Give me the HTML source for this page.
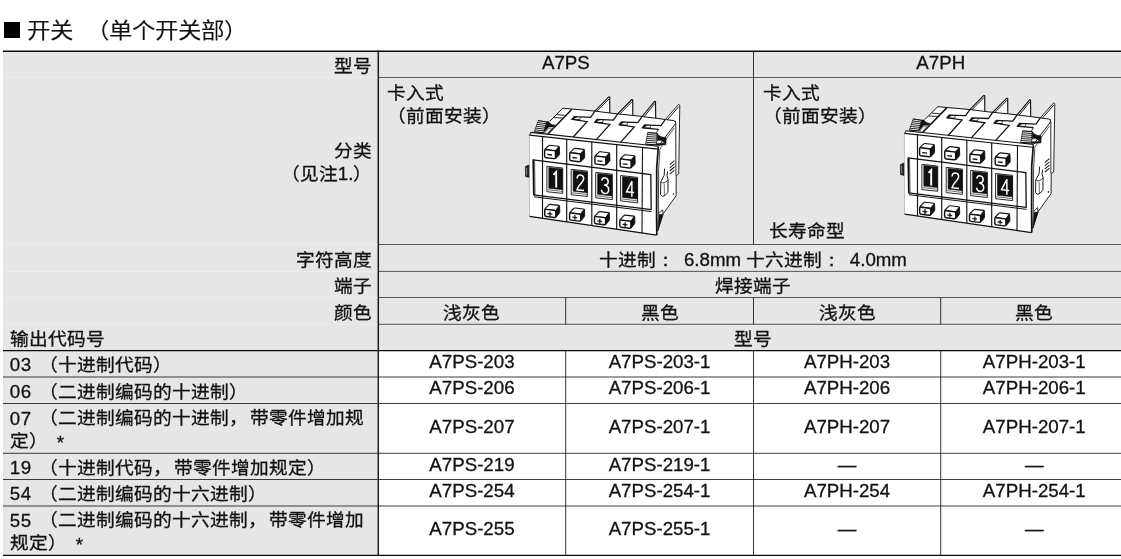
<!DOCTYPE html>
<html lang="zh-CN"><head><meta charset="utf-8"><title>A7PS / A7PH</title>
<style>
html,body{margin:0;padding:0;background:#fff;}
html{filter:grayscale(1);}
body{width:1121px;height:559px;overflow:hidden;position:relative;font-family:"Liberation Sans",sans-serif;color:#111;}
.abs{position:absolute;}
.t{position:absolute;white-space:nowrap;font-size:18.7px;line-height:24px;-webkit-text-stroke:0.3px #111;}
.k{transform:scaleY(0.94);transform-origin:50% 50%;}
.d{display:inline-block;transform:scaleY(1.0638);}
.r{text-align:right;}
.c{text-align:center;}
.l{text-align:left;}
.co{margin-right:3.4px;}
svg{position:absolute;left:0;top:0;}
</style></head>
<body>
<div class="abs" style="left:3.0px;top:51px;width:1125.0px;height:299.5px;background:#e6e6e6"></div>
<div class="abs" style="left:3.0px;top:350px;width:375.3px;height:205px;background:#e6e6e6"></div>
<svg width="1121" height="559" viewBox="0 0 1121 559">
<line x1="3.0" y1="77.5" x2="377.5" y2="77.5" stroke="#ececec" stroke-width="1.0"/>
<line x1="3.0" y1="244.5" x2="377.5" y2="244.5" stroke="#ececec" stroke-width="1.0"/>
<line x1="3.0" y1="271.4" x2="377.5" y2="271.4" stroke="#ececec" stroke-width="1.0"/>
<line x1="3.0" y1="297.5" x2="377.5" y2="297.5" stroke="#ececec" stroke-width="1.0"/>
<line x1="3.0" y1="324.3" x2="377.5" y2="324.3" stroke="#ececec" stroke-width="1.0"/>
<line x1="3.0" y1="51.2" x2="1128" y2="51.2" stroke="#0a0a0a" stroke-width="1.5"/>
<line x1="378.3" y1="77.5" x2="1128" y2="77.5" stroke="#111" stroke-width="0.68"/>
<line x1="378.3" y1="244.5" x2="1128" y2="244.5" stroke="#111" stroke-width="0.68"/>
<line x1="378.3" y1="271.4" x2="1128" y2="271.4" stroke="#111" stroke-width="0.68"/>
<line x1="378.3" y1="297.5" x2="1128" y2="297.5" stroke="#111" stroke-width="0.68"/>
<line x1="378.3" y1="324.3" x2="1128" y2="324.3" stroke="#111" stroke-width="0.68"/>
<line x1="3.0" y1="350.5" x2="1128" y2="350.5" stroke="#0a0a0a" stroke-width="1.25"/>
<line x1="3.0" y1="377.0" x2="1128" y2="377.0" stroke="#111" stroke-width="0.82"/>
<line x1="3.0" y1="403.5" x2="1128" y2="403.5" stroke="#111" stroke-width="0.82"/>
<line x1="3.0" y1="453.3" x2="1128" y2="453.3" stroke="#111" stroke-width="0.82"/>
<line x1="3.0" y1="479.5" x2="1128" y2="479.5" stroke="#111" stroke-width="0.82"/>
<line x1="3.0" y1="506.0" x2="1128" y2="506.0" stroke="#111" stroke-width="0.82"/>
<line x1="3.0" y1="555.4" x2="1128" y2="555.4" stroke="#0a0a0a" stroke-width="1.25"/>
<line x1="378.3" y1="50.5" x2="378.3" y2="556" stroke="#1e1e1e" stroke-width="1.5"/>
<line x1="753.5" y1="51" x2="753.5" y2="244.5" stroke="#111" stroke-width="0.85"/>
<line x1="565.7" y1="297.5" x2="565.7" y2="324.3" stroke="#111" stroke-width="0.85"/>
<line x1="565.7" y1="350.5" x2="565.7" y2="555.4" stroke="#111" stroke-width="0.85"/>
<line x1="753.5" y1="297.5" x2="753.5" y2="324.3" stroke="#111" stroke-width="0.85"/>
<line x1="753.5" y1="350.5" x2="753.5" y2="555.4" stroke="#111" stroke-width="0.85"/>
<line x1="940.7" y1="297.5" x2="940.7" y2="324.3" stroke="#111" stroke-width="0.85"/>
<line x1="940.7" y1="350.5" x2="940.7" y2="555.4" stroke="#111" stroke-width="0.85"/>
<g id="dev">
<polygon points="529.6,216.4 529.5,133 534.3,132 538.2,120.4 546.8,121.6 549.8,121.2 562.7,108.2 594.9,111.1 608.8,96.8 609.7,97 609.8,113 617.7,113.9 631.8,99.5 632.6,99.8 632.8,115.4 642.1,116.5 654.6,101.3 655.5,101.6 655.7,118.2 665.3,119.5 678.6,104.3 679.8,105.2 678.7,174 676.2,175.6 676.1,195.7 663.2,213.8 657.4,231 656.7,235.1" fill="#fff" stroke="none" stroke-width="1.0" />
<polyline points="594.9,111.1 608.8,96.8 609.7,97.1 609.8,113" fill="none" stroke="#111" stroke-width="1.15" />
<line x1="596.9" y1="111.3" x2="609.2" y2="98.8" stroke="#111" stroke-width="0.95"/>
<polyline points="617.7,113.9 631.8,99.5 632.7,99.8 632.8,115.4" fill="none" stroke="#111" stroke-width="1.15" />
<line x1="619.7" y1="114.1" x2="632.2" y2="101.5" stroke="#111" stroke-width="0.95"/>
<polyline points="642.1,116.5 654.6,101.3 655.5,101.6 655.7,118.2" fill="none" stroke="#111" stroke-width="1.15" />
<line x1="644.1" y1="116.7" x2="655" y2="103.3" stroke="#111" stroke-width="0.95"/>
<polyline points="665.3,119.5 678.6,104.3 679.8,105.2 678.7,174 676.2,175.6 676.1,195.7 663.2,213.8 657.4,231" fill="none" stroke="#111" stroke-width="0.9" />
<line x1="667.4" y1="119.7" x2="678.8" y2="106.5" stroke="#111" stroke-width="0.95"/>
<polyline points="675.2,120.8 675.8,124 675.9,175.6" fill="none" stroke="#111" stroke-width="0.9" />
<polyline points="562.7,108.2 594.9,111.1 609.8,113 617.7,113.9 632.8,115.4 642.1,116.5 655.7,118.2 665.3,119.5 673.8,120.6 675.6,122" fill="none" stroke="#111" stroke-width="1.0" />
<polyline points="562.7,108.2 549.8,121.2" fill="none" stroke="#111" stroke-width="1.0" />
<line x1="571.7" y1="109.4" x2="547.9" y2="133.9" stroke="#111" stroke-width="1.5"/>
<line x1="556.9" y1="114.7" x2="564.6" y2="115.3" stroke="#111" stroke-width="0.9"/>
<line x1="554" y1="117.7" x2="562.6" y2="118" stroke="#111" stroke-width="0.9"/>
<polyline points="594.9,111.1 590.6,117.3 574.2,116.6 572,119.4 587.1,121.6 573.3,137" fill="none" stroke="#111" stroke-width="1.25" />
<polygon points="574.4,116.8 576.5,117 573.2,119.3 572,119.4" fill="#111" stroke="#111" stroke-width="0.5" />
<line x1="580.4" y1="117.2" x2="579.8" y2="119.6" stroke="#111" stroke-width="0.7"/>
<line x1="573" y1="119.5" x2="580.2" y2="119.8" stroke="#111" stroke-width="1.0"/>
<polyline points="617.7,113.9 613.4,120.1 597,119.4 594.8,122.2 609.9,124.4 596.1,139.8" fill="none" stroke="#111" stroke-width="1.25" />
<polygon points="597.2,119.6 599.3,119.8 596,122.1 594.8,122.2" fill="#111" stroke="#111" stroke-width="0.5" />
<line x1="603.2" y1="120" x2="602.6" y2="122.4" stroke="#111" stroke-width="0.7"/>
<line x1="595.8" y1="122.3" x2="603" y2="122.6" stroke="#111" stroke-width="1.0"/>
<polyline points="642.1,116.5 637.8,122.7 621.4,122 619.2,124.8 634.3,127 620.5,142.4" fill="none" stroke="#111" stroke-width="1.25" />
<polygon points="621.6,122.2 623.7,122.4 620.4,124.7 619.2,124.8" fill="#111" stroke="#111" stroke-width="0.5" />
<line x1="627.6" y1="122.6" x2="627" y2="125" stroke="#111" stroke-width="0.7"/>
<line x1="620.2" y1="124.9" x2="627.4" y2="125.2" stroke="#111" stroke-width="1.0"/>
<polyline points="665.3,119.5 661,125.7 644.6,125 642.4,127.8 658.5,129.4" fill="none" stroke="#111" stroke-width="1.25" />
<polygon points="644.8,125.2 646.9,125.4 643.6,127.7 642.4,127.8" fill="#111" stroke="#111" stroke-width="0.5" />
<line x1="650.8" y1="125.6" x2="650.2" y2="128" stroke="#111" stroke-width="0.7"/>
<line x1="643.4" y1="127.9" x2="650.6" y2="128.2" stroke="#111" stroke-width="1.0"/>
<polyline points="675.6,123.6 664.9,137.6 658.4,146.6" fill="none" stroke="#111" stroke-width="1.0" />
<polyline points="674.4,127.8 665.4,140.2 659.2,150.5" fill="none" stroke="#111" stroke-width="0.7" />
<polygon points="538.2,120.6 546.8,122 543.6,132.6 534.3,131.8" fill="#fff" stroke="#111" stroke-width="0.7" />
<line x1="538.2" y1="120.6" x2="546.8" y2="122" stroke="#000" stroke-width="0.85"/>
<line x1="537.6" y1="122.5" x2="546.3" y2="123.8" stroke="#000" stroke-width="0.85"/>
<line x1="536.9" y1="124.3" x2="545.7" y2="125.5" stroke="#000" stroke-width="0.85"/>
<line x1="536.2" y1="126.2" x2="545.2" y2="127.3" stroke="#000" stroke-width="0.85"/>
<line x1="535.6" y1="128.1" x2="544.7" y2="129.1" stroke="#000" stroke-width="0.85"/>
<line x1="534.9" y1="129.9" x2="544.1" y2="130.8" stroke="#000" stroke-width="0.85"/>
<line x1="534.3" y1="131.8" x2="543.6" y2="132.6" stroke="#000" stroke-width="0.85"/>
<path d="M546.6,121.8 L548.6,121.4 Q551.5,125.6 555.3,124.9 L553.4,126.9 L548.8,126.9 L543.9,132.6 Z" fill="#111" stroke="#111" stroke-width="0.5"/>
<polygon points="548.6,128.2 551.8,128.4 546.9,133.8 544.6,133.2" fill="#fff" stroke="#111" stroke-width="0.5" />
<polygon points="647.7,132.6 657.2,133.3 656.5,144.8 645.6,144.2" fill="#fff" stroke="#111" stroke-width="0.7" />
<line x1="647.7" y1="132.6" x2="657.2" y2="133.3" stroke="#000" stroke-width="0.85"/>
<line x1="647.4" y1="134.5" x2="657.1" y2="135.2" stroke="#000" stroke-width="0.85"/>
<line x1="647" y1="136.5" x2="657" y2="137.1" stroke="#000" stroke-width="0.85"/>
<line x1="646.7" y1="138.4" x2="656.9" y2="139.1" stroke="#000" stroke-width="0.85"/>
<line x1="646.3" y1="140.3" x2="656.7" y2="141" stroke="#000" stroke-width="0.85"/>
<line x1="646" y1="142.3" x2="656.6" y2="142.9" stroke="#000" stroke-width="0.85"/>
<line x1="645.6" y1="144.2" x2="656.5" y2="144.8" stroke="#000" stroke-width="0.85"/>
<path d="M657.2,133.2 C659.4,136.6 662.6,137.6 665.5,137.2 L666.2,138.4 L666.0,144.6 L664.2,142.6 C662.0,140.4 659.6,139.8 657.2,140.8 Z" fill="#111" stroke="#111" stroke-width="0.5"/>
<path d="M656.6,143.6 L664.4,143.2 L666.0,144.8 L656.4,145.4 Z" fill="#111" stroke="#111" stroke-width="0.4"/>
<polyline points="658.5,129.4 656.3,132.8" fill="none" stroke="#111" stroke-width="0.9" />
<line x1="529.4" y1="135.6" x2="529.5" y2="216.2" stroke="#a0a0a0" stroke-width="0.6"/>
<line x1="529.3" y1="135.3" x2="531.2" y2="132.4" stroke="#111" stroke-width="1.0"/>
<line x1="529.6" y1="216.4" x2="656.7" y2="235.1" stroke="#111" stroke-width="1.2"/>
<line x1="530.6" y1="132.4" x2="658.2" y2="146.2" stroke="#111" stroke-width="1.1"/>
<line x1="529.5" y1="135.1" x2="657.8" y2="149.1" stroke="#111" stroke-width="1.1"/>
<polyline points="658.3,147 656.7,168 656.6,215 656.8,235" fill="none" stroke="#111" stroke-width="1.7" />
<polyline points="659.8,150.6 658.6,170 658.4,212 657.8,228" fill="none" stroke="#111" stroke-width="0.8" />
<line x1="542.5" y1="136.5" x2="542.5" y2="218.3" stroke="#111" stroke-width="1.15"/>
<line x1="566.7" y1="139.2" x2="566.7" y2="221.9" stroke="#111" stroke-width="1.15"/>
<line x1="591.8" y1="141.9" x2="591.8" y2="225.5" stroke="#111" stroke-width="1.15"/>
<line x1="616.7" y1="144.6" x2="616.7" y2="229.2" stroke="#111" stroke-width="1.15"/>
<line x1="642.5" y1="147.4" x2="642" y2="232.9" stroke="#111" stroke-width="1.1"/>
<polyline points="533,159.8 650.8,174.5 651.2,209.7" fill="none" stroke="#111" stroke-width="1.3" />
<line x1="533.2" y1="159.5" x2="533.8" y2="195.3" stroke="#111" stroke-width="1.7"/>
<line x1="534.6" y1="160.8" x2="535" y2="195.1" stroke="#111" stroke-width="0.7"/>
<line x1="533.5" y1="194.9" x2="651.4" y2="209.7" stroke="#111" stroke-width="1.3"/>
<line x1="534" y1="196.8" x2="651.6" y2="211.6" stroke="#111" stroke-width="1.0"/>
<polygon points="525.4,166.6 528.8,165 528.9,177.4 525.5,176.6" fill="#161616" stroke="#111" stroke-width="0.6" />
<line x1="526.7" y1="167.6" x2="526.8" y2="175.6" stroke="#c8c8c8" stroke-width="0.7"/>
<path d="M555.5,151.7 Q555.5,150.8 556.1,150.1 L558.8,147.1 Q559.4,146.4 559.4,147.3 L559.6,153.7 Q559.6,154.6 559,155.3 L556.1,158.2 Q555.5,158.8 555.5,157.9 Z" fill="#111" stroke="#111" stroke-width="0.9" stroke-linejoin="round"/><path d="M545.4,149.6 Q544.6,149.5 545.2,149 L548.7,145.7 Q549.3,145.2 550.1,145.3 L558.6,146.3 Q559.4,146.4 558.9,147 L556,150.2 Q555.5,150.8 554.7,150.7 Z" fill="#fff" stroke="#111" stroke-width="1.15" stroke-linejoin="round"/><path d="M544.6,151 Q544.6,149.5 546.1,149.7 L554,150.6 Q555.5,150.8 555.5,152.3 L555.5,157.3 Q555.5,158.8 554,158.6 L546.1,157.7 Q544.6,157.5 544.6,156 Z" fill="#fff" stroke="#111" stroke-width="1.45" stroke-linejoin="round"/><line x1="547.2" y1="154.4" x2="552" y2="155" stroke="#111" stroke-width="1.35"/>
<path d="M580.6,154.8 Q580.6,153.9 581.2,153.2 L583.9,150.2 Q584.5,149.5 584.5,150.4 L584.7,156.8 Q584.7,157.7 584.1,158.4 L581.2,161.3 Q580.6,161.9 580.6,161 Z" fill="#111" stroke="#111" stroke-width="0.9" stroke-linejoin="round"/><path d="M570.5,152.7 Q569.7,152.6 570.3,152.1 L573.8,148.8 Q574.4,148.3 575.2,148.4 L583.7,149.4 Q584.5,149.5 584,150.1 L581.1,153.3 Q580.6,153.9 579.8,153.8 Z" fill="#fff" stroke="#111" stroke-width="1.15" stroke-linejoin="round"/><path d="M569.7,154.1 Q569.7,152.6 571.2,152.8 L579.1,153.7 Q580.6,153.9 580.6,155.4 L580.6,160.4 Q580.6,161.9 579.1,161.7 L571.2,160.8 Q569.7,160.6 569.7,159.1 Z" fill="#fff" stroke="#111" stroke-width="1.45" stroke-linejoin="round"/><line x1="572.3" y1="157.5" x2="577.1" y2="158.1" stroke="#111" stroke-width="1.35"/>
<path d="M605.8,158.1 Q605.8,157.2 606.4,156.5 L609.1,153.5 Q609.7,152.8 609.7,153.7 L609.9,160.1 Q609.9,161 609.3,161.7 L606.4,164.6 Q605.8,165.2 605.8,164.3 Z" fill="#111" stroke="#111" stroke-width="0.9" stroke-linejoin="round"/><path d="M595.7,156 Q594.9,155.9 595.5,155.4 L599,152.1 Q599.6,151.6 600.4,151.7 L608.9,152.7 Q609.7,152.8 609.2,153.4 L606.3,156.6 Q605.8,157.2 605,157.1 Z" fill="#fff" stroke="#111" stroke-width="1.15" stroke-linejoin="round"/><path d="M594.9,157.4 Q594.9,155.9 596.4,156.1 L604.3,157 Q605.8,157.2 605.8,158.7 L605.8,163.7 Q605.8,165.2 604.3,165 L596.4,164.1 Q594.9,163.9 594.9,162.4 Z" fill="#fff" stroke="#111" stroke-width="1.45" stroke-linejoin="round"/><line x1="597.5" y1="160.8" x2="602.3" y2="161.4" stroke="#111" stroke-width="1.35"/>
<path d="M631.1,161.1 Q631.1,160.2 631.7,159.5 L634.4,156.5 Q635,155.8 635,156.7 L635.2,163.1 Q635.2,164 634.6,164.7 L631.7,167.6 Q631.1,168.2 631.1,167.3 Z" fill="#111" stroke="#111" stroke-width="0.9" stroke-linejoin="round"/><path d="M621,159 Q620.2,158.9 620.8,158.4 L624.3,155.1 Q624.9,154.6 625.7,154.7 L634.2,155.7 Q635,155.8 634.5,156.4 L631.6,159.6 Q631.1,160.2 630.3,160.1 Z" fill="#fff" stroke="#111" stroke-width="1.15" stroke-linejoin="round"/><path d="M620.2,160.4 Q620.2,158.9 621.7,159.1 L629.6,160 Q631.1,160.2 631.1,161.7 L631.1,166.7 Q631.1,168.2 629.6,168 L621.7,167.1 Q620.2,166.9 620.2,165.4 Z" fill="#fff" stroke="#111" stroke-width="1.45" stroke-linejoin="round"/><line x1="622.8" y1="163.8" x2="627.6" y2="164.4" stroke="#111" stroke-width="1.35"/>
<path d="M555.8,211.4 Q555.8,210.5 556.3,209.8 L559.1,206.2 Q559.6,205.5 559.6,206.4 L559.8,211.9 Q559.8,212.8 559.2,213.5 L556.4,216.9 Q555.8,217.6 555.8,216.7 Z" fill="#111" stroke="#111" stroke-width="0.9" stroke-linejoin="round"/><path d="M545.5,209.3 Q544.7,209.2 545.2,208.6 L548.8,204.9 Q549.3,204.3 550.1,204.4 L558.8,205.4 Q559.6,205.5 559.1,206.2 L556.3,209.9 Q555.8,210.5 555,210.4 Z" fill="#fff" stroke="#111" stroke-width="1.15" stroke-linejoin="round"/><path d="M544.7,210.7 Q544.7,209.2 546.2,209.4 L554.3,210.4 Q555.8,210.5 555.8,212 L555.8,216.1 Q555.8,217.6 554.3,217.5 L546.2,216.5 Q544.7,216.3 544.7,214.8 Z" fill="#fff" stroke="#111" stroke-width="1.45" stroke-linejoin="round"/><line x1="547.5" y1="213.6" x2="552.3" y2="214.2" stroke="#111" stroke-width="1.25"/><line x1="550" y1="211.5" x2="550" y2="216.2" stroke="#111" stroke-width="1.25"/>
<path d="M580.7,215 Q580.7,214.1 581.2,213.4 L584,209.8 Q584.5,209.1 584.5,210 L584.7,215.5 Q584.7,216.4 584.1,217.1 L581.3,220.5 Q580.7,221.2 580.7,220.3 Z" fill="#111" stroke="#111" stroke-width="0.9" stroke-linejoin="round"/><path d="M570.4,212.9 Q569.6,212.8 570.1,212.2 L573.7,208.5 Q574.2,207.9 575,208 L583.7,209 Q584.5,209.1 584,209.8 L581.2,213.5 Q580.7,214.1 579.9,214 Z" fill="#fff" stroke="#111" stroke-width="1.15" stroke-linejoin="round"/><path d="M569.6,214.3 Q569.6,212.8 571.1,213 L579.2,214 Q580.7,214.1 580.7,215.6 L580.7,219.7 Q580.7,221.2 579.2,221.1 L571.1,220.1 Q569.6,219.9 569.6,218.4 Z" fill="#fff" stroke="#111" stroke-width="1.45" stroke-linejoin="round"/><line x1="572.4" y1="217.2" x2="577.2" y2="217.8" stroke="#111" stroke-width="1.25"/><line x1="574.9" y1="215.1" x2="574.9" y2="219.8" stroke="#111" stroke-width="1.25"/>
<path d="M605.6,218.6 Q605.6,217.7 606.1,217 L608.9,213.4 Q609.4,212.7 609.4,213.6 L609.6,219.1 Q609.6,220 609,220.7 L606.2,224.1 Q605.6,224.8 605.6,223.9 Z" fill="#111" stroke="#111" stroke-width="0.9" stroke-linejoin="round"/><path d="M595.3,216.5 Q594.5,216.4 595,215.8 L598.6,212.1 Q599.1,211.5 599.9,211.6 L608.6,212.6 Q609.4,212.7 608.9,213.4 L606.1,217.1 Q605.6,217.7 604.8,217.6 Z" fill="#fff" stroke="#111" stroke-width="1.15" stroke-linejoin="round"/><path d="M594.5,217.9 Q594.5,216.4 596,216.6 L604.1,217.6 Q605.6,217.7 605.6,219.2 L605.6,223.3 Q605.6,224.8 604.1,224.7 L596,223.7 Q594.5,223.5 594.5,222 Z" fill="#fff" stroke="#111" stroke-width="1.45" stroke-linejoin="round"/><line x1="597.3" y1="220.8" x2="602.1" y2="221.4" stroke="#111" stroke-width="1.25"/><line x1="599.8" y1="218.7" x2="599.8" y2="223.4" stroke="#111" stroke-width="1.25"/>
<path d="M630.9,222.1 Q630.9,221.2 631.4,220.5 L634.2,216.9 Q634.7,216.2 634.7,217.1 L634.9,222.6 Q634.9,223.5 634.3,224.2 L631.5,227.6 Q630.9,228.3 630.9,227.4 Z" fill="#111" stroke="#111" stroke-width="0.9" stroke-linejoin="round"/><path d="M620.6,220 Q619.8,219.9 620.3,219.3 L623.9,215.6 Q624.4,215 625.2,215.1 L633.9,216.1 Q634.7,216.2 634.2,216.9 L631.4,220.6 Q630.9,221.2 630.1,221.1 Z" fill="#fff" stroke="#111" stroke-width="1.15" stroke-linejoin="round"/><path d="M619.8,221.4 Q619.8,219.9 621.3,220.1 L629.4,221.1 Q630.9,221.2 630.9,222.7 L630.9,226.8 Q630.9,228.3 629.4,228.2 L621.3,227.2 Q619.8,227 619.8,225.5 Z" fill="#fff" stroke="#111" stroke-width="1.45" stroke-linejoin="round"/><line x1="622.6" y1="224.3" x2="627.4" y2="224.9" stroke="#111" stroke-width="1.25"/><line x1="625.1" y1="222.2" x2="625.1" y2="226.9" stroke="#111" stroke-width="1.25"/>
<polygon points="546.9,166.3 562.7,168 562.7,193.4 546.9,191.7" fill="#fff" stroke="#111" stroke-width="0.9" />
<polygon points="548.8,167.4 562.5,168.9 562.5,189.7 548.8,188.2" fill="#111" stroke="#111" stroke-width="0.6" />
<line x1="547.7" y1="189.7" x2="562.3" y2="191.4" stroke="#111" stroke-width="0.6"/>
<path d="M2.6,4.6 L6,0.6 L6,20" transform="translate(551.4,171) skewY(6.3) scale(0.8,0.8)" fill="none" stroke="#fff" stroke-width="1.9" vector-effect="non-scaling-stroke" stroke-linejoin="miter"/>
<polygon points="571.2,169.3 587.4,171.1 587.4,196.5 571.2,194.7" fill="#fff" stroke="#111" stroke-width="0.9" />
<polygon points="573.1,170.4 587.2,172 587.2,192.8 573.1,191.2" fill="#111" stroke="#111" stroke-width="0.6" />
<line x1="572" y1="192.7" x2="587" y2="194.5" stroke="#111" stroke-width="0.6"/>
<path d="M1,5.4 C1,-1 9.2,-1 9.2,5 C9.2,9.4 2.4,13 0.9,19.6 L9.6,19.6" transform="translate(576.3,174) skewY(6.3) scale(0.8,0.8)" fill="none" stroke="#fff" stroke-width="1.5" vector-effect="non-scaling-stroke" stroke-linejoin="miter"/>
<polygon points="595.7,172.4 612.3,174.2 612.3,199.6 595.7,197.8" fill="#fff" stroke="#111" stroke-width="0.9" />
<polygon points="597.6,173.5 612.1,175.1 612.1,195.9 597.6,194.3" fill="#111" stroke="#111" stroke-width="0.6" />
<line x1="596.5" y1="195.8" x2="611.9" y2="197.6" stroke="#111" stroke-width="0.6"/>
<path d="M1,4.4 C1.8,-1 9,-1 9,4.8 C9,8.6 5.6,9.4 3.8,9.4 C6.2,9.4 9.6,10.4 9.6,14.8 C9.6,21.4 1.4,21.6 0.6,15.8" transform="translate(601,177.1) skewY(6.3) scale(0.8,0.8)" fill="none" stroke="#fff" stroke-width="1.5" vector-effect="non-scaling-stroke" stroke-linejoin="miter"/>
<polygon points="620.6,175.5 637.6,177.4 637.6,202.8 620.6,200.9" fill="#fff" stroke="#111" stroke-width="0.9" />
<polygon points="622.5,176.6 637.4,178.2 637.4,199 622.5,197.4" fill="#111" stroke="#111" stroke-width="0.6" />
<line x1="621.4" y1="198.9" x2="637.2" y2="200.8" stroke="#111" stroke-width="0.6"/>
<path d="M7.2,20 L7.2,0.6 L0.5,14.4 L10,14.4" transform="translate(626.1,180.2) skewY(6.3) scale(0.8,0.8)" fill="none" stroke="#fff" stroke-width="1.5" vector-effect="non-scaling-stroke" stroke-linejoin="miter"/>
<line x1="669.8" y1="164.6" x2="674.4" y2="160.6" stroke="#222" stroke-width="1.05"/>
<line x1="669.8" y1="167.8" x2="674.4" y2="163.8" stroke="#222" stroke-width="1.05"/>
<line x1="669.8" y1="171" x2="674.4" y2="167" stroke="#222" stroke-width="1.05"/>
<line x1="669.8" y1="174.2" x2="674.4" y2="170.2" stroke="#222" stroke-width="1.05"/>
<path d="M664.6,168.6 Q665.6,175.6 660.8,181.8 L660.5,194.6 Q662.2,197.6 664.6,195.8 L667.9,192.4 L668.1,179.6 Q666.2,176.2 667.6,171.6" fill="none" stroke="#111" stroke-width="0.95"/>
<path d="M660.8,182.0 Q664.0,184.6 668.0,180.0" fill="none" stroke="#111" stroke-width="0.8"/>
<line x1="664.2" y1="183.8" x2="664.4" y2="196" stroke="#111" stroke-width="0.6"/>
<polyline points="658.8,213.6 662.6,209.8 663,213.8" fill="none" stroke="#111" stroke-width="0.9" />
<polygon points="663,214.2 658,230.6 659.2,214.6" fill="#111" stroke="#111" stroke-width="0.6" />
<circle cx="673.4" cy="194.0" r="0.8" fill="#111"/>
</g>
<use href="#dev" transform="translate(375.0,-0.78) scale(1,0.9931)"/>
</svg>
<div class="abs" style="left:4px;top:22px;width:16px;height:16px;background:#000"></div>
<div class="t  l" style="left:27.4px;width:72.6px;top:13.61px;line-height:34.78px;-webkit-text-stroke:0.08px #111;font-size:23.5px;transform:scaleY(0.92);transform-origin:50% 50%;">开关</div>
<div class="t  l" style="left:85.5px;width:214.5px;top:13.61px;line-height:34.78px;-webkit-text-stroke:0.08px #111;font-size:23.5px;transform:scaleY(0.92);transform-origin:50% 50%;">（单个开关部）</div>
<div class="t k r" style="left:3.0px;width:369.4px;top:53.08px;line-height:25.53px;">型号</div>
<div class="t k r" style="left:3.0px;width:369.4px;top:138.84px;line-height:24.26px;">分类<br>（见注<span class="d">1.</span>）</div>
<div class="t k r" style="left:3.0px;width:369.4px;top:246.68px;line-height:25.53px;">字符高度</div>
<div class="t k r" style="left:3.0px;width:369.4px;top:273.18px;line-height:25.53px;">端子</div>
<div class="t k r" style="left:3.0px;width:369.4px;top:299.63px;line-height:25.53px;">颜色</div>
<div class="t k l" style="left:10.0px;width:368.0px;top:326.13px;line-height:25.53px;">输出代码号</div>
<div class="t c" style="left:378.3px;width:375.2px;top:50.55px;line-height:24px;">A7PS</div>
<div class="t c" style="left:753.5px;width:374.5px;top:50.55px;line-height:24px;">A7PH</div>
<div class="t k c" style="left:378.3px;width:749.7px;top:246.68px;line-height:25.53px;">十进制<span class="co" lang="ja">：</span> <span class="d">6.8mm</span> 十六进制<span class="co" lang="ja">：</span> <span class="d">4.0mm</span></div>
<div class="t k c" style="left:378.3px;width:749.7px;top:273.18px;line-height:25.53px;">焊接端子</div>
<div class="t k c" style="left:378.3px;width:187.3px;top:299.63px;line-height:25.53px;">浅灰色</div>
<div class="t k c" style="left:565.6px;width:187.9px;top:299.63px;line-height:25.53px;">黑色</div>
<div class="t k c" style="left:753.5px;width:187.1px;top:299.63px;line-height:25.53px;">浅灰色</div>
<div class="t k c" style="left:940.6px;width:187.4px;top:299.63px;line-height:25.53px;">黑色</div>
<div class="t k c" style="left:378.3px;width:749.7px;top:326.13px;line-height:25.53px;">型号</div>
<div class="t k l" style="left:387.4px;width:212.6px;top:80.73px;line-height:24.47px;">卡入式<br>（前面安装）</div>
<div class="t k l" style="left:762.6px;width:217.4px;top:80.73px;line-height:24.47px;">卡入式<br>（前面安装）</div>
<div class="t k l" style="left:769px;width:131.0px;top:217.63px;line-height:25.53px;">长寿命型</div>
<div class="t k l" style="left:10.0px;width:368.0px;top:353.02px;line-height:24.47px;"><span style="letter-spacing:0.6px;margin-left:-0.3px"><span class="d">03</span></span> <span style="margin-left:2.4px">（十进制代码）</span></div>
<div class="t c" style="left:378.3px;width:187.3px;top:350.45px;line-height:24px;">A7PS-203</div>
<div class="t c" style="left:565.6px;width:187.9px;top:350.45px;line-height:24px;">A7PS-203-1</div>
<div class="t c" style="left:753.5px;width:187.1px;top:350.45px;line-height:24px;">A7PH-203</div>
<div class="t c" style="left:940.6px;width:187.4px;top:350.45px;line-height:24px;">A7PH-203-1</div>
<div class="t k l" style="left:10.0px;width:368.0px;top:379.52px;line-height:24.47px;"><span style="letter-spacing:0.6px;margin-left:-0.3px"><span class="d">06</span></span> <span style="margin-left:2.4px">（二进制编码的十进制）</span></div>
<div class="t c" style="left:378.3px;width:187.3px;top:376.15px;line-height:24px;">A7PS-206</div>
<div class="t c" style="left:565.6px;width:187.9px;top:376.15px;line-height:24px;">A7PS-206-1</div>
<div class="t c" style="left:753.5px;width:187.1px;top:376.15px;line-height:24px;">A7PH-206</div>
<div class="t c" style="left:940.6px;width:187.4px;top:376.15px;line-height:24px;">A7PH-206-1</div>
<div class="t k l" style="left:10.0px;width:368.0px;top:406.13px;line-height:24.47px;"><span style="letter-spacing:0.6px;margin-left:-0.3px"><span class="d">07</span></span> <span style="margin-left:2.4px">（二进制编码的十进制，</span><span style="margin-left:-3.3px"> 带零件增加规<br>定）</span> <span style="position:relative;left:3.6px;top:2px;">*</span></div>
<div class="t c" style="left:378.3px;width:187.3px;top:415.00px;line-height:24px;">A7PS-207</div>
<div class="t c" style="left:565.6px;width:187.9px;top:415.00px;line-height:24px;">A7PS-207-1</div>
<div class="t c" style="left:753.5px;width:187.1px;top:415.00px;line-height:24px;">A7PH-207</div>
<div class="t c" style="left:940.6px;width:187.4px;top:415.00px;line-height:24px;">A7PH-207-1</div>
<div class="t k l" style="left:10.0px;width:368.0px;top:455.67px;line-height:24.47px;"><span style="letter-spacing:0.6px;margin-left:-0.3px"><span class="d">19</span></span> <span style="margin-left:2.4px">（十进制代码，</span><span style="margin-left:-3.3px"> 带零件增加规定）</span></div>
<div class="t c" style="left:378.3px;width:187.3px;top:452.50px;line-height:24px;">A7PS-219</div>
<div class="t c" style="left:565.6px;width:187.9px;top:452.50px;line-height:24px;">A7PS-219-1</div>
<div class="t c" style="left:753.5px;width:187.1px;top:452.50px;">—</div>
<div class="t c" style="left:940.6px;width:187.4px;top:452.50px;">—</div>
<div class="t k l" style="left:10.0px;width:368.0px;top:482.02px;line-height:24.47px;"><span style="letter-spacing:0.6px;margin-left:-0.3px"><span class="d">54</span></span> <span style="margin-left:2.4px">（二进制编码的十六进制）</span></div>
<div class="t c" style="left:378.3px;width:187.3px;top:479.45px;line-height:24px;">A7PS-254</div>
<div class="t c" style="left:565.6px;width:187.9px;top:479.45px;line-height:24px;">A7PS-254-1</div>
<div class="t c" style="left:753.5px;width:187.1px;top:479.45px;line-height:24px;">A7PH-254</div>
<div class="t c" style="left:940.6px;width:187.4px;top:479.45px;line-height:24px;">A7PH-254-1</div>
<div class="t k l" style="left:10.0px;width:368.0px;top:508.43px;line-height:24.47px;"><span style="letter-spacing:0.6px;margin-left:-0.3px"><span class="d">55</span></span> <span style="margin-left:2.4px">（二进制编码的十六进制，</span><span style="margin-left:-3.3px"> 带零件增加<br>规定）</span> <span style="position:relative;left:3.6px;top:2px;">*</span></div>
<div class="t c" style="left:378.3px;width:187.3px;top:517.30px;line-height:24px;">A7PS-255</div>
<div class="t c" style="left:565.6px;width:187.9px;top:517.30px;line-height:24px;">A7PS-255-1</div>
<div class="t c" style="left:753.5px;width:187.1px;top:517.30px;">—</div>
<div class="t c" style="left:940.6px;width:187.4px;top:517.30px;">—</div>
</body></html>
